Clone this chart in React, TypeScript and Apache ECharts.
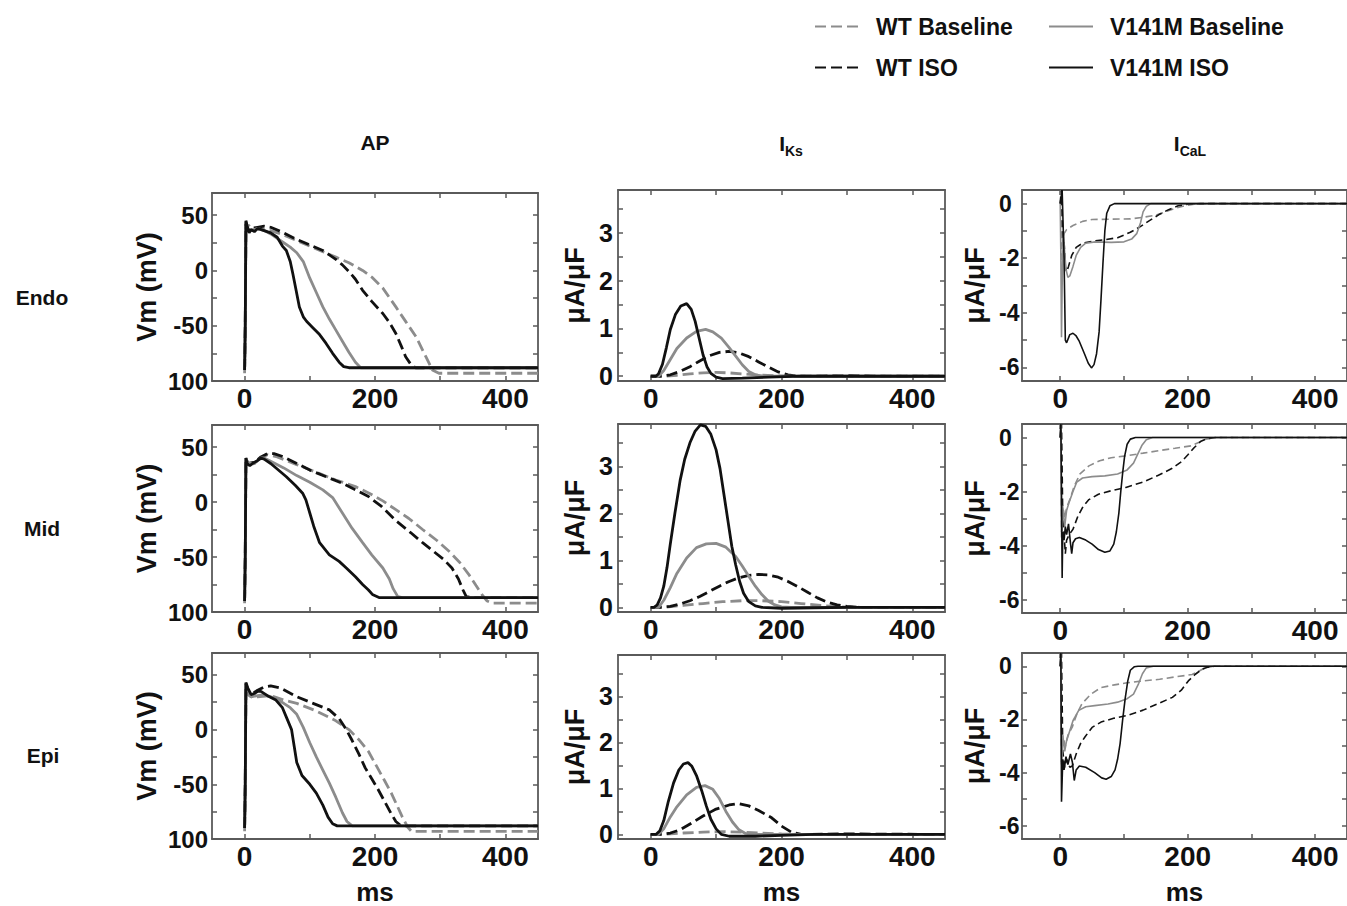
import React, { useEffect, useRef } from 'react';
import * as echarts from 'echarts';

type P = [number, number][];

const FONT = '"Liberation Sans", Arial, sans-serif';
const seriesNames = ['WT Baseline', 'WT ISO', 'V141M Baseline', 'V141M ISO'];
const regionNames = ['Endo', 'Mid', 'Epi'];
const xTicks = [0, 100, 200, 300, 400];
const xLabels = [0, 200, 400];
const apYTicks = [-100, -75, -50, -25, 0, 25, 50];
const apYLabels = [-100, -50, 0, 50];
const iksYTicks = [0, 0.5, 1, 1.5, 2, 2.5, 3, 3.5];
const iksYLabels = [0, 1, 2, 3];
const icalYTicks = [-6, -5, -4, -3, -2, -1, 0];
const icalYLabels = [-6, -4, -2, 0];

// ---------- AP (mV) ----------
const endoApWtBase: P = [[0,-93],[1,-60],[2,40],[4,38],[6,41],[10,38],[20,38],[30,37],[40,36],[60,32],[80,27],[100,22],[120,17],[140,12],[160,7],[181,0],[195,-6],[212,-16],[232,-33],[248,-47],[263,-60],[278,-78],[288,-90],[298,-93],[450,-93]];
const endoApWtIso: P = [[0,-90],[1,-50],[2,42],[4,36],[10,38],[20,39],[30,40],[40,39],[60,34],[80,28],[100,23],[120,18],[130,14],[140,10],[150,5],[160,-1],[170,-8],[181,-18],[195,-28],[212,-39],[222,-47],[232,-57],[240,-68],[247,-78],[255,-85],[262,-88],[450,-88]];
const endoApV141Base: P = [[0,-90],[1,-50],[2,44],[5,38],[10,36],[20,38],[30,36],[40,33],[50,29],[60,25],[70,21],[80,16],[90,8],[100,-7],[110,-20],[120,-33],[130,-44],[140,-54],[150,-64],[160,-74],[170,-83],[178,-88],[450,-88]];
const endoApV141Iso: P = [[0,-90],[1,-50],[2,45],[4,40],[7,34],[10,37],[15,35],[20,38],[30,36],[40,34],[50,30],[58,22],[64,18],[70,8],[74,-3],[78,-15],[84,-33],[90,-42],[95,-46],[105,-52],[115,-58],[125,-66],[135,-75],[145,-83],[152,-87],[160,-88],[450,-88]];

const midApWtBase: P = [[0,-92],[1,-55],[2,38],[5,34],[15,35],[25,40],[35,43],[50,41],[80,34],[110,27],[140,20],[170,14],[191,8],[212,1],[232,-7],[252,-15],[273,-25],[295,-35],[314,-45],[330,-55],[344,-66],[355,-76],[365,-85],[372,-90],[380,-92],[450,-92]];
const midApWtIso: P = [[0,-90],[1,-50],[2,40],[5,35],[15,36],[25,41],[35,44],[45,44],[60,41],[80,35],[100,29],[125,23],[150,17],[170,11],[190,5],[210,-4],[232,-17],[255,-28],[273,-37],[290,-45],[305,-52],[318,-60],[328,-70],[335,-80],[340,-86],[348,-87],[450,-87]];
const midApV141Base: P = [[0,-90],[1,-50],[2,40],[5,35],[15,35],[25,40],[30,40],[40,37],[60,31],[80,24],[100,18],[120,11],[135,4],[150,-10],[165,-24],[181,-37],[195,-48],[212,-60],[222,-70],[228,-79],[235,-86],[242,-87],[450,-87]];
const midApV141Iso: P = [[0,-90],[1,-50],[2,40],[4,35],[8,33],[12,35],[18,37],[25,40],[30,39],[40,35],[50,30],[64,23],[78,15],[89,8],[94,2],[100,-10],[106,-22],[115,-37],[130,-48],[145,-54],[156,-60],[170,-68],[181,-75],[190,-80],[196,-84],[207,-87],[450,-87]];

const epiApWtBase: P = [[0,-93],[1,-55],[2,38],[5,32],[10,30],[20,30],[40,31],[60,27],[80,24],[110,17],[140,8],[160,0],[175,-9],[190,-20],[202,-33],[215,-47],[225,-58],[232,-67],[242,-80],[250,-89],[256,-93],[450,-93]];
const epiApWtIso: P = [[0,-90],[1,-50],[2,42],[5,35],[10,32],[20,36],[30,39],[40,40],[55,38],[80,30],[105,24],[130,18],[145,10],[156,0],[165,-10],[175,-22],[185,-35],[195,-45],[205,-55],[215,-66],[225,-77],[232,-84],[240,-88],[450,-88]];
const epiApV141Base: P = [[0,-90],[1,-50],[2,42],[5,36],[10,30],[20,31],[30,32],[45,29],[60,24],[70,20],[80,14],[90,2],[100,-12],[110,-25],[120,-37],[130,-49],[140,-62],[150,-76],[157,-84],[165,-88],[450,-88]];
const epiApV141Iso: P = [[0,-90],[1,-50],[2,43],[5,38],[10,32],[15,33],[20,35],[25,35],[35,31],[48,27],[58,20],[65,10],[72,0],[76,-15],[80,-30],[88,-42],[100,-50],[110,-58],[120,-69],[128,-80],[135,-86],[142,-88],[450,-88]];

// ---------- IKs (uA/uF) ----------
const endoIksWtBase: P = [[0,0],[20,0],[40,0.02],[60,0.05],[80,0.07],[100,0.08],[120,0.07],[140,0.05],[160,0.03],[190,0.01],[220,0],[450,0]];
const endoIksWtIso: P = [[0,0],[15,0],[30,0.03],[45,0.1],[60,0.2],[75,0.32],[90,0.43],[105,0.5],[120,0.52],[135,0.49],[150,0.41],[165,0.3],[180,0.19],[195,0.09],[210,0.03],[225,0],[300,0.01],[350,0],[450,0]];
const endoIksV141Base: P = [[0,0],[12,0],[20,0.12],[30,0.35],[40,0.58],[55,0.8],[70,0.94],[84,0.98],[95,0.93],[108,0.8],[120,0.6],[130,0.42],[140,0.24],[150,0.1],[160,0.03],[175,0],[450,0]];
const endoIksV141Iso: P = [[0,0],[8,0],[12,0.05],[18,0.25],[24,0.6],[30,0.98],[38,1.3],[46,1.47],[55,1.52],[62,1.4],[68,1.15],[74,0.8],[80,0.45],[86,0.2],[92,0.06],[100,-0.02],[110,-0.05],[140,-0.04],[180,-0.02],[230,0],[450,0]];

const midIksWtBase: P = [[0,0],[20,0],[50,0.04],[80,0.08],[110,0.12],[140,0.14],[170,0.14],[200,0.12],[230,0.08],[260,0.04],[290,0.01],[320,0],[450,0]];
const midIksWtIso: P = [[0,0],[15,0],[30,0.02],[45,0.07],[60,0.14],[75,0.23],[90,0.34],[105,0.45],[120,0.55],[135,0.63],[150,0.68],[165,0.7],[180,0.69],[195,0.64],[210,0.55],[225,0.44],[240,0.32],[255,0.2],[270,0.11],[285,0.05],[300,0.02],[320,0],[450,0]];
const midIksV141Base: P = [[0,0],[12,0],[20,0.15],[30,0.42],[40,0.72],[55,1.05],[70,1.27],[85,1.35],[100,1.36],[115,1.28],[130,1.08],[140,0.88],[150,0.66],[160,0.45],[170,0.27],[180,0.13],[190,0.05],[200,0.01],[215,0],[450,0]];
const midIksV141Iso: P = [[0,0],[5,0],[10,0.05],[15,0.2],[20,0.45],[25,0.85],[30,1.35],[37,2.0],[45,2.7],[52,3.15],[60,3.5],[68,3.75],[76,3.88],[84,3.85],[92,3.68],[100,3.35],[106,2.95],[112,2.4],[118,1.85],[124,1.3],[130,0.9],[136,0.55],[142,0.3],[150,0.12],[160,0.03],[170,0],[200,-0.02],[250,-0.01],[300,0],[450,0]];

const epiIksWtBase: P = [[0,0],[20,0],[50,0.03],[80,0.05],[110,0.06],[140,0.05],[170,0.03],[200,0.01],[230,0],[450,0]];
const epiIksWtIso: P = [[0,0],[15,0],[30,0.03],[45,0.1],[63,0.25],[80,0.4],[100,0.55],[120,0.64],[134,0.67],[150,0.62],[165,0.52],[185,0.36],[200,0.18],[215,0.05],[230,0],[300,0.01],[450,0]];
const epiIksV141Base: P = [[0,0],[12,0],[20,0.12],[30,0.38],[40,0.6],[55,0.86],[70,1.02],[83,1.06],[95,0.98],[105,0.78],[115,0.5],[125,0.27],[135,0.1],[145,0.02],[160,0],[450,0]];
const epiIksV141Iso: P = [[0,0],[8,0],[14,0.08],[20,0.3],[27,0.72],[35,1.12],[43,1.4],[50,1.53],[57,1.56],[63,1.48],[70,1.28],[78,0.95],[85,0.62],[92,0.33],[100,0.12],[108,0],[120,-0.04],[160,-0.04],[200,-0.02],[250,0],[450,0]];

// ---------- ICaL (uA/uF) ----------
const endoIcalWtBase: P = [[0,0],[1,0.5],[2,-1.0],[3,-2.5],[4,-1.3],[6,-1.1],[10,-0.95],[20,-0.8],[35,-0.65],[50,-0.58],[80,-0.57],[110,-0.56],[130,-0.5],[150,-0.42],[165,-0.3],[180,-0.17],[195,-0.08],[210,-0.02],[230,0],[450,0]];
const endoIcalWtIso: P = [[0,0],[2,0.5],[4,-1.2],[6,-1.4],[8,-2.3],[10,-2.5],[13,-2.3],[18,-1.9],[25,-1.6],[35,-1.45],[50,-1.38],[70,-1.32],[90,-1.25],[110,-1.05],[125,-0.85],[140,-0.62],[155,-0.4],[170,-0.22],[185,-0.08],[200,-0.02],[220,0],[450,0]];
const endoIcalV141Base: P = [[0,0],[1,-2],[2,-4.9],[3,-3],[5,-1.0],[7,-1.8],[9,-2.4],[12,-2.7],[15,-2.65],[20,-2.3],[25,-1.9],[32,-1.6],[40,-1.45],[55,-1.4],[80,-1.42],[100,-1.4],[112,-1.3],[120,-1.1],[126,-0.7],[130,-0.3],[135,-0.1],[142,0],[450,0]];
const endoIcalV141Iso: P = [[0,0],[3,0.5],[4,0.5],[6,-2],[8,-5.0],[10,-5.1],[15,-4.8],[20,-4.75],[25,-4.85],[30,-5.05],[38,-5.5],[44,-5.85],[49,-6.02],[53,-5.9],[57,-5.5],[61,-4.7],[64,-3.5],[67,-2.2],[70,-1.0],[73,-0.35],[78,-0.08],[85,0],[450,0]];

const midIcalWtBase: P = [[0,0],[1,0.5],[2,-3.5],[4,-2.5],[7,-3.0],[10,-2.6],[15,-2.3],[22,-1.8],[31,-1.35],[45,-1.05],[62,-0.86],[80,-0.75],[103,-0.68],[130,-0.58],[154,-0.49],[180,-0.4],[205,-0.31],[218,-0.18],[228,-0.06],[245,0],[450,0]];
const midIcalWtIso: P = [[0,0],[2,0.5],[4,-3.0],[6,-3.6],[8,-4.3],[10,-3.8],[14,-3.6],[20,-3.4],[28,-2.9],[36,-2.55],[45,-2.3],[60,-2.1],[80,-1.97],[103,-1.85],[130,-1.65],[154,-1.4],[175,-1.15],[190,-0.9],[200,-0.65],[210,-0.38],[220,-0.15],[230,-0.04],[245,0],[450,0]];
const midIcalV141Base: P = [[0,0],[1,0.5],[2,-3.7],[4,-2.6],[7,-3.3],[10,-2.7],[14,-2.4],[20,-2.0],[26,-1.65],[35,-1.5],[50,-1.45],[70,-1.42],[90,-1.35],[105,-1.2],[115,-0.95],[122,-0.6],[128,-0.3],[135,-0.08],[145,0],[450,0]];
const midIcalV141Iso: P = [[0,0],[1,0.5],[2,-2],[3,-5.2],[4,-3.5],[6,-3.8],[8,-3.3],[10,-3.6],[13,-3.2],[16,-3.9],[18,-4.3],[20,-3.9],[24,-3.75],[30,-3.7],[40,-3.8],[50,-3.95],[60,-4.15],[70,-4.25],[78,-4.2],[84,-3.95],[88,-3.5],[92,-2.8],[95,-2.0],[98,-1.3],[101,-0.7],[105,-0.25],[110,-0.06],[118,0],[450,0]];

const epiIcalWtBase: P = [[0,0],[1,0.5],[2,-3.6],[4,-2.6],[8,-3.0],[12,-2.6],[19,-2.28],[26,-1.8],[34,-1.41],[48,-1.05],[64,-0.8],[85,-0.7],[105,-0.62],[130,-0.55],[156,-0.49],[180,-0.4],[207,-0.31],[218,-0.18],[227,-0.06],[240,0],[450,0]];
const epiIcalWtIso: P = [[0,0],[2,0.5],[4,-3.2],[7,-3.8],[10,-3.5],[15,-3.8],[19,-3.75],[25,-3.3],[32,-2.9],[39,-2.65],[50,-2.3],[64,-2.1],[85,-1.95],[105,-1.85],[130,-1.65],[156,-1.38],[176,-1.17],[190,-0.9],[201,-0.55],[212,-0.3],[222,-0.12],[232,-0.03],[242,0],[450,0]];
const epiIcalV141Base: P = [[0,0],[1,0.5],[2,-3.7],[4,-2.6],[7,-3.2],[10,-2.8],[14,-2.5],[20,-2.05],[29,-1.66],[40,-1.52],[54,-1.48],[75,-1.42],[90,-1.35],[105,-1.22],[115,-1.05],[123,-0.65],[129,-0.28],[135,-0.06],[146,0],[450,0]];
const epiIcalV141Iso: P = [[0,0],[1,0.5],[2,-5.1],[4,-3.5],[6,-3.9],[9,-3.4],[12,-3.7],[16,-3.3],[19,-3.6],[22,-4.3],[25,-3.9],[30,-3.75],[40,-3.8],[54,-4.0],[65,-4.2],[72,-4.25],[80,-4.15],[86,-3.9],[90,-3.5],[94,-2.9],[98,-2.0],[102,-1.2],[106,-0.55],[110,-0.15],[116,-0.02],[122,0],[450,0]];

const apData: P[][] = [
  [endoApWtBase, endoApWtIso, endoApV141Base, endoApV141Iso],
  [midApWtBase, midApWtIso, midApV141Base, midApV141Iso],
  [epiApWtBase, epiApWtIso, epiApV141Base, epiApV141Iso],
];
const iksData: P[][] = [
  [endoIksWtBase, endoIksWtIso, endoIksV141Base, endoIksV141Iso],
  [midIksWtBase, midIksWtIso, midIksV141Base, midIksV141Iso],
  [epiIksWtBase, epiIksWtIso, epiIksV141Base, epiIksV141Iso],
];
const icalData: P[][] = [
  [endoIcalWtBase, endoIcalWtIso, endoIcalV141Base, endoIcalV141Iso],
  [midIcalWtBase, midIcalWtIso, midIcalV141Base, midIcalV141Iso],
  [epiIcalWtBase, epiIcalWtIso, epiIcalV141Base, epiIcalV141Iso],
];

const GRAY = '#8c8c8c';
const BLACK = '#111111';
const AXIS = '#5a5a5a';

function buildOption() {
  const columns = [
    {
      data: apData, left: 212, width: 326, tops: [193, 425, 653], heights: [188, 187, 187],
      xMin: -50, yMin: -100, yMax: 70, yTicks: apYTicks, yLabels: apYLabels,
      name: 'Vm (mV)', nameGap: 52, labelAlign: 'right', labelMargin: 4, labelSize: 24,
      lw: 2.8, dash: [11, 5],
    },
    {
      data: iksData, left: 618, width: 327, tops: [190, 424, 655], heights: [191, 188, 185],
      xMin: -50, yMin: -0.1, yMax: 3.9, yTicks: iksYTicks, yLabels: iksYLabels,
      name: 'μA/μF', nameGap: 30, labelAlign: 'right', labelMargin: 5, labelSize: 25,
      lw: 2.8, dash: [11, 5],
    },
    {
      data: icalData, left: 1022, width: 331.5, tops: [190, 424, 653], heights: [191, 189, 188],
      xMin: -60, yMin: -6.5, yMax: 0.5, yTicks: icalYTicks, yLabels: icalYLabels,
      name: 'μA/μF', nameGap: 34, labelAlign: 'left', labelMargin: 23, labelSize: 23,
      lw: 1.6, dash: [7, 4],
    },
  ];
  const styles = [
    { color: GRAY, dashed: true },
    { color: BLACK, dashed: true },
    { color: GRAY, dashed: false },
    { color: BLACK, dashed: false },
  ];

  const grid: any[] = [];
  const xAxis: any[] = [];
  const yAxis: any[] = [];
  const series: any[] = [];
  let g = 0;
  columns.forEach((col) => {
    for (let r = 0; r < 3; r++) {
      grid.push({ left: col.left, top: col.tops[r], width: col.width, height: col.heights[r], containLabel: false });
      const axisLine = { show: true, onZero: false, lineStyle: { color: AXIS, width: 1.8 } };
      const tick = (vals: number[]) => ({ show: true, inside: true, length: 5, customValues: vals, lineStyle: { color: AXIS, width: 1.5 } });
      xAxis.push({
        type: 'value', gridIndex: g, min: col.xMin, max: 450, position: 'bottom',
        axisLine, axisTick: tick(xTicks), splitLine: { show: false },
        axisLabel: { show: true, customValues: xLabels, margin: 3, fontSize: 28, fontWeight: 'bold', color: '#111', fontFamily: FONT },
        name: r === 2 ? 'ms' : '', nameLocation: 'middle', nameGap: 40,
        nameTextStyle: { fontSize: 26, fontWeight: 'bold', color: '#111', fontFamily: FONT },
      });
      xAxis.push({
        type: 'value', gridIndex: g, min: col.xMin, max: 450, position: 'top',
        axisLine, axisTick: tick(xTicks), splitLine: { show: false }, axisLabel: { show: false },
      });
      yAxis.push({
        type: 'value', gridIndex: g, min: col.yMin, max: col.yMax, position: 'left',
        axisLine, axisTick: tick(col.yTicks), splitLine: { show: false },
        axisLabel: {
          show: true, customValues: col.yLabels, margin: col.labelMargin, align: col.labelAlign,
          fontSize: col.labelSize, fontWeight: 'bold', color: '#111', fontFamily: FONT,
          formatter: (v: number) => (v === -100 ? '100' : String(v)),
        },
        name: col.name, nameLocation: 'middle', nameGap: col.nameGap, nameRotate: 90,
        nameTextStyle: { fontSize: 27, fontWeight: 'bold', color: '#111', fontFamily: FONT },
      });
      yAxis.push({
        type: 'value', gridIndex: g, min: col.yMin, max: col.yMax, position: 'right',
        axisLine, axisTick: tick(col.yTicks), splitLine: { show: false }, axisLabel: { show: false },
      });
      col.data[r].forEach((d, k) => {
        const st = styles[k];
        series.push({
          type: 'line', name: seriesNames[k], xAxisIndex: 2 * g, yAxisIndex: 2 * g,
          data: d, symbol: 'none', silent: true, color: st.color, z: 2 + k,
          lineStyle: { color: st.color, width: col.lw, type: st.dashed ? col.dash : 'solid' },
        });
      });
      g++;
    }
  });

  const legendCommon = {
    orient: 'vertical', top: 10, itemWidth: 44, itemHeight: 14, itemGap: 18, selectedMode: false,
    itemStyle: { opacity: 0, borderWidth: 0 },
    lineStyle: { width: 2 },
    textStyle: { fontSize: 23, fontWeight: 'bold', color: '#111', fontFamily: FONT, padding: [0, 0, 0, 12] },
  };
  const legend = [
    { ...legendCommon, left: 809, data: ['WT Baseline', 'WT ISO'] },
    { ...legendCommon, left: 1043, data: ['V141M Baseline', 'V141M ISO'] },
  ];

  const txt = (text: string, x: number, y: number) => ({
    type: 'text', x, y,
    style: { text, fontSize: 21, fontWeight: 'bold', fill: '#111', fontFamily: FONT, textAlign: 'center', textVerticalAlign: 'middle' },
  });
  const sub = (main: string, s: string, x: number, y: number) => ({
    type: 'text', x, y,
    style: {
      text: `{m|${main}}{s|${s}}`, textAlign: 'center', textVerticalAlign: 'middle', fill: '#111',
      rich: {
        m: { fontSize: 21, fontWeight: 'bold', fontFamily: FONT, lineHeight: 22, verticalAlign: 'middle', fill: '#111' },
        s: { fontSize: 14, fontWeight: 'bold', fontFamily: FONT, lineHeight: 30, verticalAlign: 'bottom', fill: '#111' },
      },
    },
  });
  const graphic = [
    txt('AP', 375, 142),
    sub('I', 'Ks', 791, 143),
    sub('I', 'CaL', 1190, 143),
    txt(regionNames[0], 42, 297),
    txt(regionNames[1], 42, 528),
    txt(regionNames[2], 43, 755),
  ];

  return {
    animation: false,
    backgroundColor: '#ffffff',
    textStyle: { fontFamily: FONT },
    legend,
    grid,
    xAxis,
    yAxis,
    series,
    graphic,
  };
}

export default function App() {
  const ref = useRef<HTMLDivElement>(null);
  useEffect(() => {
    if (!ref.current) return;
    const chart = echarts.init(ref.current, undefined, { renderer: 'svg' });
    chart.setOption(buildOption() as any);
    return () => chart.dispose();
  }, []);
  return <div ref={ref} style={{ position: 'fixed', left: 0, top: 0, width: 1347, height: 906, background: '#fff' }} />;
}
